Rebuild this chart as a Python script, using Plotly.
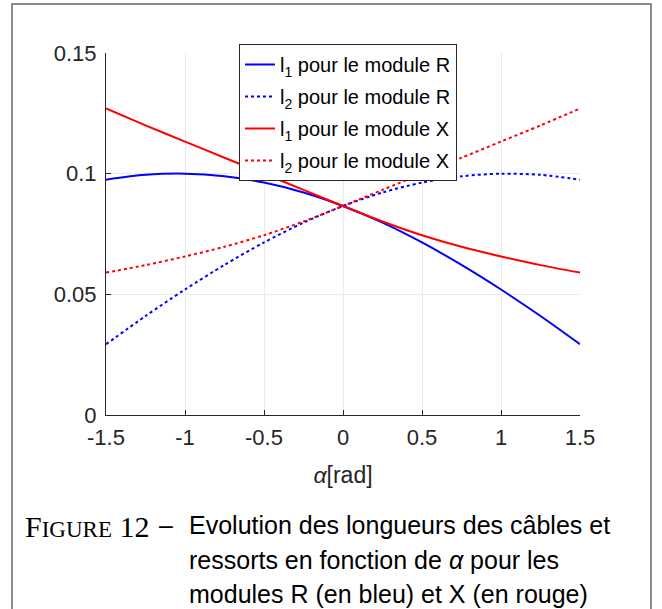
import plotly.graph_objects as go

# ---- data ----
alpha = [-1.5, -1.25, -1.0, -0.75, -0.5, -0.25, 0.0, 0.25, 0.5, 0.75, 1.0, 1.25, 1.5]
l1_R = [0.0975, 0.0995, 0.1000, 0.0989, 0.0963, 0.0922, 0.0866, 0.0797, 0.0715, 0.0622, 0.0520, 0.0410, 0.0293]
l2_R = [0.0293, 0.0410, 0.0520, 0.0622, 0.0715, 0.0797, 0.0866, 0.0922, 0.0963, 0.0989, 0.1000, 0.0995, 0.0975]
l1_X = [0.1270, 0.1200, 0.1133, 0.1066, 0.1000, 0.0933, 0.0866, 0.0802, 0.0745, 0.0697, 0.0657, 0.0621, 0.0590]
l2_X = [0.0590, 0.0621, 0.0657, 0.0697, 0.0745, 0.0802, 0.0866, 0.0933, 0.1000, 0.1066, 0.1133, 0.1200, 0.1270]

x_tickvals = [-1.5, -1.0, -0.5, 0.0, 0.5, 1.0, 1.5]
x_ticktext = ["-1.5", "-1", "-0.5", "0", "0.5", "1", "1.5"]
y_tickvals = [0.0, 0.05, 0.10, 0.15]
y_ticktext = ["0", "0.05", "0.1", "0.15"]

series_names = [
    "l<sub>1</sub> pour le module R",
    "l<sub>2</sub> pour le module R",
    "l<sub>1</sub> pour le module X",
    "l<sub>2</sub> pour le module X",
]

caption_lines = [
    "Evolution des longueurs des câbles et",
    "ressorts en fonction de <i>α</i> pour les",
    "modules R (en bleu) et X (en rouge)",
]

# ---- layout geometry (pixels) ----
W, H = 662, 609
L, R, T, B = 106, 580, 53, 415
pw, ph = R - L, B - T


def px(x):
    return (x - L) / pw


def py(y):
    return (B - y) / ph


AX = "#262626"
FONT = "Liberation Sans, Arial, sans-serif"

fig = go.Figure()
styles = [("#0000ff", "solid"), ("#0000ff", "dot"), ("#ff0000", "solid"), ("#ff0000", "dot")]
for i, (name, ys, (col, dash)) in enumerate(zip(series_names, [l1_R, l2_R, l1_X, l2_X], styles)):
    fig.add_trace(go.Scatter(
        x=alpha, y=ys, mode="lines", name=name, legendgroup=f"g{i}",
        line=dict(color=col, width=2, dash=dash, shape="spline", smoothing=0.8),
    ))

fig.update_layout(
    width=W, height=H,
    margin=dict(l=L, r=W - R, t=T, b=H - B),
    paper_bgcolor="white", plot_bgcolor="white",
    font=dict(family=FONT, size=22, color=AX),
    showlegend=True,
    legend=dict(
        x=px(239), y=py(44), xanchor="left", yanchor="top",
        bgcolor="white", bordercolor=AX, borderwidth=1,
        font=dict(family=FONT, size=20, color="#000000"),
        itemwidth=30, tracegroupgap=3,
    ),
    xaxis=dict(
        range=[-1.5, 1.5], tickvals=x_tickvals, ticktext=x_ticktext,
        showgrid=True, gridcolor="#ebebeb", gridwidth=1,
        showline=True, linecolor=AX, linewidth=1,
        ticks="inside", ticklen=5, tickcolor=AX,
        zeroline=False, ticklabelstandoff=3,
        title=dict(text="<i>α</i>[rad]", font=dict(size=23, color=AX), standoff=17),
        tickfont=dict(size=22, color=AX),
    ),
    yaxis=dict(
        range=[0, 0.15], tickvals=y_tickvals, ticktext=y_ticktext,
        showgrid=True, gridcolor="#ebebeb", gridwidth=1,
        showline=True, linecolor=AX, linewidth=1,
        ticks="inside", ticklen=5, tickcolor=AX,
        zeroline=False, ticklabelstandoff=4,
        tickfont=dict(size=22, color=AX),
    ),
)

# outer frame
fig.add_shape(type="rect", xref="paper", yref="paper",
              x0=px(12), x1=px(651), y0=py(640), y1=py(4),
              line=dict(color="#666666", width=1.5), fillcolor="rgba(0,0,0,0)", layer="below")

# caption
SERIF = "Liberation Serif, Times New Roman, serif"
fig.add_annotation(xref="paper", yref="paper", x=px(23), y=py(526), xanchor="left", yanchor="middle",
                   text="F<span style='font-size:23px'>IGURE</span> 12",
                   showarrow=False, font=dict(family=SERIF, size=30, color="#000000"))
fig.add_annotation(xref="paper", yref="paper", x=px(157), y=py(525), xanchor="left", yanchor="middle",
                   text="–", showarrow=False, font=dict(family=FONT, size=25, color="#000000"))
for i, line in enumerate(caption_lines):
    fig.add_annotation(xref="paper", yref="paper", x=px(187), y=py(525 + 34.5 * i),
                       xanchor="left", yanchor="middle", text=line, showarrow=False,
                       font=dict(family=FONT, size=25, color="#000000"))

fig.write_html("out.html", config={"displayModeBar": False},
               post_script="document.body.style.margin='0';")
